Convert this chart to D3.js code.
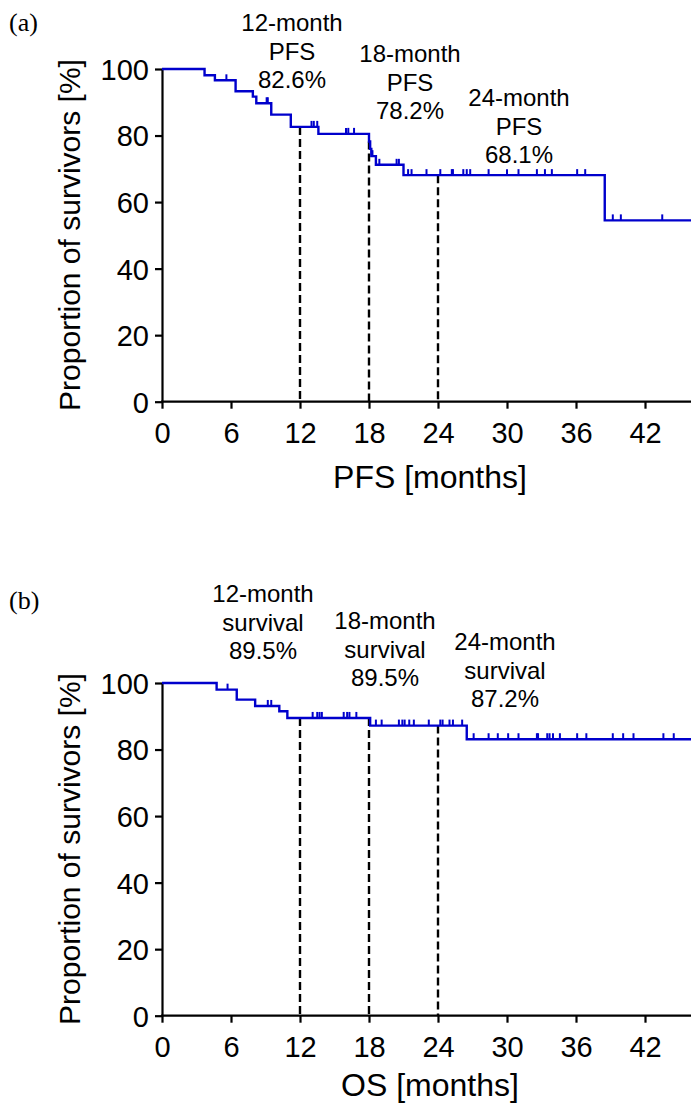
<!DOCTYPE html>
<html lang="en">
    <head>
        <meta charset="utf-8"/>
        <script src="https://d3js.org/d3.v7.min.js"></script>
        <style>
            body { margin: 0; background: #fff; }
            text { font-family: "Liberation Sans", Arial, sans-serif; fill: #000; }
        </style>
    </head>
    <body>
        <div id="chart"></div>
    </body>
    <script>
        // Kaplan-Meier curves

        var monthTicks = [0, 6, 12, 18, 24, 30, 36, 42];
        var percentTicks = [0, 20, 40, 60, 80, 100];
        var landmarkMonths = [12, 18, 24];

        // (a) progression-free survival
        var pfsTimes = [0, 3.7, 4.6, 6.4, 7.9, 8.2, 9.5, 11.2, 13.6, 18.0, 18.1, 18.2, 18.6, 21.0, 38.5];
        var pfsValues = [100, 98.1, 96.6, 93.3, 91.7, 89.7, 86.3, 82.6, 80.5, 78.2, 76.0, 73.8, 71.2, 68.1, 54.5];
        var pfsCensored = [5.6, 9.1, 9.2, 13.0, 13.2, 13.5, 16.0, 16.2, 16.7, 18.3, 18.9, 20.4, 20.6,
            21.4, 21.7, 23.0, 24.2, 25.2, 25.3, 26.2, 26.5, 26.8, 28.4, 30.0, 31.0, 32.6, 33.3, 33.9,
            36.1, 36.8, 39.2, 39.9, 43.5];
        var pfsLandmarks = [82.6, 78.2, 68.1];
        var pfsLabels = [["12-month", "PFS", "82.6%"], ["18-month", "PFS", "78.2%"], ["24-month", "PFS", "68.1%"]];

        // (b) overall survival
        var osTimes = [0, 4.75, 6.5, 8.1, 10.2, 10.9, 18.1, 26.5];
        var osValues = [100, 98.0, 95.0, 93.1, 91.5, 89.5, 87.2, 83.1];
        var osCensored = [5.7, 9.2, 9.5, 13.1, 13.5, 13.7, 13.9, 15.8, 16.1, 16.3, 16.9, 18.6, 19.1,
            20.6, 20.9, 21.1, 21.5, 21.9, 23.2, 24.2, 24.4, 25.0, 25.3, 26.1, 27.1, 28.4, 29.2, 30.1,
            31.0, 32.6, 32.7, 33.5, 33.7, 34.0, 34.6, 36.1, 36.9, 39.2, 40.1, 41.0, 43.6, 44.5];
        var osLandmarks = [89.5, 89.5, 87.2];
        var osLabels = [["12-month", "survival", "89.5%"], ["18-month", "survival", "89.5%"], ["24-month", "survival", "87.2%"]];

        var width = 691, height = 1103;
        var blue = "#0000cc";

        var svg = d3.select("#chart")
            .append("svg")
                .attr("width", width)
                .attr("height", height)

        function stepValue(times, values, t) {
            var i = d3.bisectRight(times, t) - 1;
            return values[Math.max(i, 0)];
        }

        function drawPanel(p) {
            var x = d3.scaleLinear()
                .domain([0, 46])
                .range([162, 691])
            var y = d3.scaleLinear()
                .domain([0, 100])
                .range([p.top + 332.7, p.top])

            // panel letter
            svg.append("text")
                .attr("x", 9)
                .attr("y", p.letterY)
                .style("font-family", "'Liberation Serif', 'Times New Roman', serif")
                .style("font-size", "26px")
                .text(p.letter)

            // axes
            var xAxis = svg.append("g")
                .attr("transform", "translate(0," + y(0) + ")")
                .call(d3.axisBottom(x).tickValues(monthTicks).tickSize(7).tickSizeOuter(0).tickPadding(14))
            var yAxis = svg.append("g")
                .attr("transform", "translate(" + x(0) + ",0)")
                .call(d3.axisLeft(y).tickValues(percentTicks).tickSize(7).tickSizeOuter(0).tickPadding(6))
            ;[xAxis, yAxis].forEach(function (a) {
                a.selectAll("path, line").attr("stroke", "#000").attr("stroke-width", 2.2)
                a.selectAll("text").style("font-size", "29px").style("font-family", "'Liberation Sans', Arial, sans-serif")
            })
            xAxis.select(".domain").attr("d", "M" + (x(0) - 1) + ",0H" + width)
            yAxis.selectAll("text").attr("dy", "0.36em")

            // axis titles
            svg.append("text")
                .attr("x", 430)
                .attr("y", y(0) + p.titleGap)
                .attr("text-anchor", "middle")
                .style("font-size", "32px")
                .text(p.xTitle)
            svg.append("text")
                .attr("transform", "translate(80," + (p.top + 166) + ") rotate(-90)")
                .attr("text-anchor", "middle")
                .style("font-size", "30px")
                .text("Proportion of survivors [%]")

            // landmark dashed lines
            svg.append("g")
                .selectAll("line")
                .data(landmarkMonths)
                .enter()
                .append("line")
                .attr("x1", function (d) { return x(d); })
                .attr("x2", function (d) { return x(d); })
                .attr("y1", function (d, i) { return y(p.landmarks[i]); })
                .attr("y2", y(0))
                .attr("stroke", "#000")
                .attr("stroke-width", 2.4)
                .attr("stroke-dasharray", "8,4")

            // survival curve
            var pts = p.times.map(function (t, i) { return [t, p.values[i]]; });
            pts.push([46, p.values[p.values.length - 1]]);
            svg.append("path")
                .datum(pts)
                .attr("fill", "none")
                .attr("stroke", blue)
                .attr("stroke-width", 2.4)
                .attr("d", d3.line()
                    .curve(d3.curveStepAfter)
                    .x(function (d) { return x(d[0]); })
                    .y(function (d) { return y(d[1]); }))

            // censor marks
            svg.append("g")
                .selectAll("line")
                .data(p.censored)
                .enter()
                .append("line")
                .attr("x1", function (d) { return x(d); })
                .attr("x2", function (d) { return x(d); })
                .attr("y1", function (d) { return y(stepValue(p.times, p.values, d)); })
                .attr("y2", function (d) { return y(stepValue(p.times, p.values, d)) - 6; })
                .attr("stroke", blue)
                .attr("stroke-width", 2)

            // landmark annotations
            p.labels.forEach(function (lines, i) {
                var t = svg.append("text")
                    .attr("text-anchor", "middle")
                    .style("font-size", "24px")
                lines.forEach(function (s, j) {
                    t.append("tspan")
                        .attr("x", p.labelPos[i][0])
                        .attr("y", p.labelPos[i][1] + j * 28.7)
                        .text(s)
                })
            })
        }

        drawPanel({
            top: 69, letter: "(a)", letterY: 31, xTitle: "PFS [months]", titleGap: 86,
            times: pfsTimes, values: pfsValues, censored: pfsCensored,
            landmarks: pfsLandmarks, labels: pfsLabels,
            labelPos: [[292, 31], [410, 62], [519, 106]]
        })
        drawPanel({
            top: 683, letter: "(b)", letterY: 609, xTitle: "OS [months]", titleGap: 80,
            times: osTimes, values: osValues, censored: osCensored,
            landmarks: osLandmarks, labels: osLabels,
            labelPos: [[263, 602], [385, 629], [505, 650]]
        })
    </script>
</html>
